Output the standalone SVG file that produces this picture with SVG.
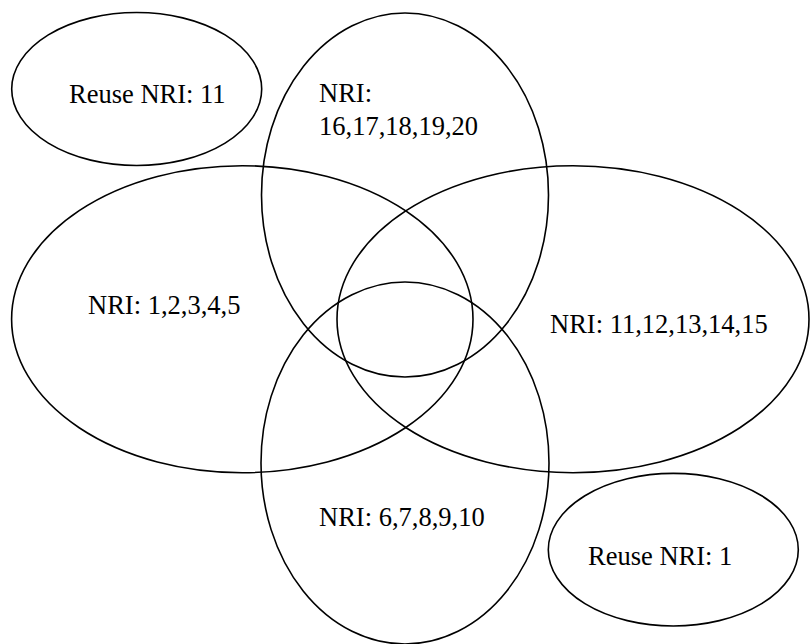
<svg xmlns="http://www.w3.org/2000/svg" width="810" height="644" viewBox="0 0 810 644">
<style>
.e{fill:none;stroke:#000;stroke-width:1.6}
.t{font-family:"Liberation Serif","Times New Roman",serif;font-size:26.5px;fill:#000}
</style>
<rect width="810" height="644" fill="#fff"/>
<g id="reuse11"><ellipse class="e" cx="136.7" cy="89" rx="125" ry="76.5"/><text class="t" x="69" y="103">Reuse NRI: 11</text></g>
<g id="set16"><ellipse class="e" cx="405" cy="195" rx="143.5" ry="182"/><text class="t" x="319" y="102">NRI:</text><text class="t" x="319" y="135">16,17,18,19,20</text></g>
<g id="set1"><ellipse class="e" cx="242.3" cy="319.2" rx="230.7" ry="153.5"/><text class="t" x="88" y="314">NRI: 1,2,3,4,5</text></g>
<g id="set11"><ellipse class="e" cx="573" cy="319.2" rx="236" ry="153.5"/><text class="t" x="550" y="333">NRI: 11,12,13,14,15</text></g>
<g id="set6"><ellipse class="e" cx="405" cy="463" rx="144" ry="181"/><text class="t" x="319" y="526">NRI: 6,7,8,9,10</text></g>
<g id="reuse1"><ellipse class="e" cx="673.3" cy="549.7" rx="125" ry="76.3"/><text class="t" x="588" y="565">Reuse NRI: 1</text></g>
<g id="connectors"/>
</svg>
